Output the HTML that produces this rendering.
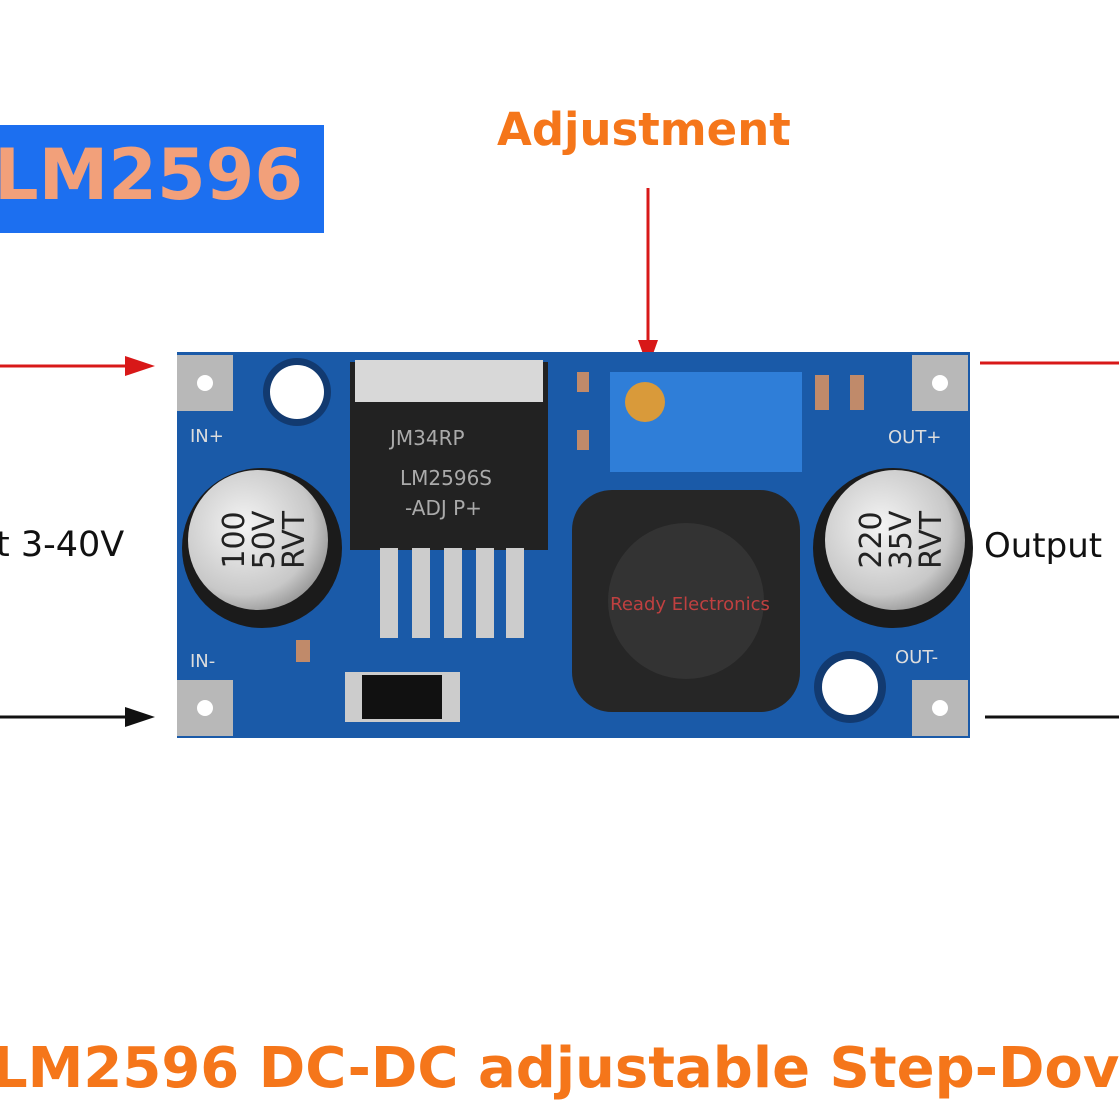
<!DOCTYPE html>
<html><head><meta charset="utf-8"><style>
body{margin:0;width:1119px;height:1119px;background:#fff;position:relative;overflow:hidden;font-family:"DejaVu Sans","Liberation Sans",sans-serif}
.a{position:absolute;white-space:nowrap}
</style></head><body>
<div class="a" style="left:0;top:125px;width:324px;height:108px;background:#1c6ff0"></div>
<div class="a" style="left:-6px;top:134px;font-size:70px;font-weight:bold;color:#f2a07a">LM2596</div>
<div class="a" style="left:497px;top:103px;font-size:45px;font-weight:bold;color:#f5761a">Adjustment</div>
<div class="a" style="left:-4px;top:525px;font-size:35px;color:#111">t 3-40V</div>
<div class="a" style="left:984px;top:526px;font-size:34px;color:#111">Output</div>
<div class="a" style="left:-8px;top:1036px;font-size:56px;font-weight:bold;color:#f5761a">LM2596 DC-DC adjustable Step-Dov</div>
<svg class="a" style="left:0;top:0" width="1119" height="1119">
<defs>
<radialGradient id="cap" cx="0.4" cy="0.4" r="0.7"><stop offset="0" stop-color="#f4f4f4"/><stop offset="0.7" stop-color="#c8c8c8"/><stop offset="1" stop-color="#888"/></radialGradient>
</defs>
<line x1="648" y1="188" x2="648" y2="350" stroke="#d81818" stroke-width="3"/>
<polygon points="638,340 658,340 648,368" fill="#d81818"/>
<line x1="0" y1="366" x2="130" y2="366" stroke="#d81818" stroke-width="3"/>
<polygon points="125,356 155,366 125,376" fill="#d81818"/>
<line x1="0" y1="717" x2="130" y2="717" stroke="#111" stroke-width="3"/>
<polygon points="125,707 155,717 125,727" fill="#111"/>
<line x1="980" y1="363" x2="1119" y2="363" stroke="#d81818" stroke-width="3"/>
<line x1="985" y1="717" x2="1119" y2="717" stroke="#111" stroke-width="3"/>
<rect x="177" y="352" width="793" height="386" fill="#1a5aa8"/>
<rect x="177" y="355" width="56" height="56" fill="#b8b8b8"/><circle cx="205" cy="383" r="8" fill="#fff"/>
<rect x="177" y="680" width="56" height="56" fill="#b8b8b8"/><circle cx="205" cy="708" r="8" fill="#fff"/>
<rect x="912" y="355" width="56" height="56" fill="#b8b8b8"/><circle cx="940" cy="383" r="8" fill="#fff"/>
<rect x="912" y="680" width="56" height="56" fill="#b8b8b8"/><circle cx="940" cy="708" r="8" fill="#fff"/>
<circle cx="297" cy="392" r="34" fill="#123a70"/><circle cx="297" cy="392" r="27" fill="#fff"/>
<circle cx="850" cy="687" r="36" fill="#123a70"/><circle cx="850" cy="687" r="28" fill="#fff"/>
<circle cx="262" cy="548" r="80" fill="#1b1b1b"/><circle cx="258" cy="540" r="70" fill="url(#cap)"/>
<circle cx="893" cy="548" r="80" fill="#1b1b1b"/><circle cx="895" cy="540" r="70" fill="url(#cap)"/>
<g transform="translate(258 540) rotate(-90)" font-size="30" fill="#222" text-anchor="middle">
<text x="0" y="-14">100</text><text x="0" y="16">50V</text><text x="0" y="46">RVT</text></g>
<g transform="translate(895 540) rotate(-90)" font-size="30" fill="#222" text-anchor="middle">
<text x="0" y="-14">220</text><text x="0" y="16">35V</text><text x="0" y="46">RVT</text></g>
<rect x="350" y="362" width="198" height="188" fill="#222"/>
<rect x="355" y="360" width="188" height="42" fill="#d8d8d8"/>
<text x="390" y="445" font-size="20" fill="#aaa">JM34RP</text>
<text x="400" y="485" font-size="20" fill="#aaa">LM2596S</text>
<text x="405" y="515" font-size="20" fill="#aaa">-ADJ  P+</text>
<g fill="#ccc"><rect x="380" y="548" width="18" height="90"/><rect x="412" y="548" width="18" height="90"/><rect x="444" y="548" width="18" height="90"/><rect x="476" y="548" width="18" height="90"/><rect x="506" y="548" width="18" height="90"/></g>
<rect x="345" y="672" width="115" height="50" fill="#ccc"/><rect x="362" y="675" width="80" height="44" fill="#111"/>
<rect x="610" y="372" width="192" height="100" fill="#2f7ed8"/>
<circle cx="645" cy="402" r="20" fill="#d99a3a"/>
<rect x="572" y="490" width="228" height="222" rx="40" fill="#262626"/>
<circle cx="686" cy="601" r="78" fill="#333"/>
<text x="690" y="610" font-size="18" fill="#c04040" text-anchor="middle">Ready Electronics</text>
<g fill="#ddd" font-size="18">
<text x="190" y="442">IN+</text><text x="190" y="667">IN-</text>
<text x="888" y="443">OUT+</text><text x="895" y="663">OUT-</text>
</g>
<g fill="#c08a6a"><rect x="577" y="372" width="12" height="20"/><rect x="577" y="430" width="12" height="20"/><rect x="815" y="375" width="14" height="35"/><rect x="850" y="375" width="14" height="35"/><rect x="296" y="640" width="14" height="22"/></g>
</svg>
</body></html>
